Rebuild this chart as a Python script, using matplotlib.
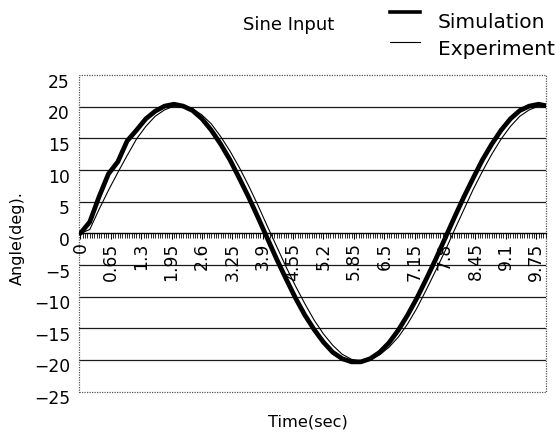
import matplotlib
matplotlib.use("Agg")
import matplotlib.pyplot as plt
from matplotlib.ticker import MultipleLocator, FixedLocator, FixedFormatter
from matplotlib.patches import Rectangle
from matplotlib.lines import Line2D
from matplotlib.transforms import ScaledTranslation

plt.rcParams['font.family'] = ['DejaVu Sans']

# Time samples (sec)
time = [0.0, 0.2, 0.4, 0.6, 0.8, 1.0, 1.2, 1.4, 1.6, 1.8,
        2.0, 2.2, 2.4, 2.6, 2.8, 3.0, 3.2, 3.4, 3.6, 3.8,
        4.0, 4.2, 4.4, 4.6, 4.8, 5.0, 5.2, 5.4, 5.6, 5.8,
        6.0, 6.2, 6.4, 6.6, 6.8, 7.0, 7.2, 7.4, 7.6, 7.8,
        8.0, 8.2, 8.4, 8.6, 8.8, 9.0, 9.2, 9.4, 9.6, 9.8, 10.0]

simulation = [0.0, 1.8, 5.8, 9.4, 11.3, 14.6, 16.3, 18.1, 19.3, 20.1,
              20.4, 20.1, 19.4, 18.1, 16.3, 14.1, 11.6, 8.7, 5.7, 2.5,
              -0.8, -4.1, -7.2, -10.2, -12.9, -15.2, -17.2, -18.8, -19.8, -20.3,
              -20.3, -19.8, -18.8, -17.3, -15.3, -12.9, -10.2, -7.2, -4.1, -0.8,
              2.5, 5.7, 8.7, 11.6, 14.1, 16.3, 18.1, 19.4, 20.1, 20.4, 20.1]

experiment = [0.0, 0.6, 3.8, 6.8, 9.6, 12.3, 14.9, 16.9, 18.5, 19.5,
              20.1, 20.2, 19.7, 18.7, 17.3, 15.3, 13.0, 10.4, 7.5, 4.4,
              1.1, -2.1, -5.3, -8.3, -11.1, -13.7, -15.9, -17.7, -19.1, -19.9,
              -20.2, -20.0, -19.2, -18.0, -16.4, -14.3, -11.8, -8.9, -5.9, -2.8,
              0.5, 3.7, 6.9, 9.8, 12.5, 14.9, 16.9, 18.5, 19.5, 20.1, 20.0]

x_tick_values = [0, 0.65, 1.3, 1.95, 2.6, 3.25, 3.9, 4.55, 5.2, 5.85,
                 6.5, 7.15, 7.8, 8.45, 9.1, 9.75]
x_tick_labels = ["0", "0.65", "1.3", "1.95", "2.6", "3.25", "3.9", "4.55", "5.2",
                 "5.85", "6.5", "7.15", "7.8", "8.45", "9.1", "9.75"]
y_tick_values = [25, 20, 15, 10, 5, 0, -5, -10, -15, -20, -25]

W, H = 556, 433
fig = plt.figure(figsize=(W / 100, H / 100), dpi=100)
top_px, bot_px, left_px, right_px = 75.1, 391.6, 79, 546
ax = fig.add_axes([left_px / W, 1 - bot_px / H, (right_px - left_px) / W, (bot_px - top_px) / H])

ax.set_xlim(-0.03, 9.96)
ax.set_ylim(-25, 25)

# gridlines
for v in y_tick_values:
    if v not in (0, 25, -25):
        ax.axhline(v, color='#1a1a1a', lw=0.9, zorder=1)

# dotted plot-area frame
ax.add_patch(Rectangle((0, 0), 1, 1, transform=ax.transAxes, fill=False,
                       ls=(0, (1, 1)), lw=0.9, ec='#555555', zorder=1, clip_on=False))

for s in ['top', 'right', 'left']:
    ax.spines[s].set_visible(False)
ax.spines['bottom'].set_position(('data', 0))
ax.spines['bottom'].set_linewidth(1.0)
ax.spines['bottom'].set_zorder(2)

ax.plot(time, simulation, color='black', lw=3.4, solid_capstyle='round', zorder=3)
ax.plot(time, experiment, color='black', lw=0.8, zorder=4)

ax.xaxis.set_major_locator(FixedLocator(x_tick_values))
ax.xaxis.set_major_formatter(FixedFormatter(x_tick_labels))
ax.xaxis.set_minor_locator(MultipleLocator(0.05))
ax.tick_params(axis='x', which='major', direction='out', length=4.5, width=0.8,
               labelrotation=90, labelsize=12.3, pad=2)
ax.tick_params(axis='x', which='minor', direction='out', length=3.5, width=0.6)

ax.set_yticks(y_tick_values)
ax.set_yticklabels([str(v).replace('-', '\u2212') for v in y_tick_values])
ax.tick_params(axis='y', length=0, labelsize=12.3, pad=6.5)
shift = ScaledTranslation(0, -5.5 / 100, fig.dpi_scale_trans)
for lab in ax.get_yticklabels():
    lab.set_transform(lab.get_transform() + shift)

fig.text(17 / W, 1 - 238 / H, 'Angle(deg).', rotation=90, ha='center', va='center', fontsize=11.5)
fig.text(308 / W, 1 - 422 / H, 'Time(sec)', ha='center', va='center', fontsize=11.7)
fig.text(243 / W, 1 - 30 / H, 'Sine Input', ha='left', va='baseline', fontsize=13)

# legend
fig.add_artist(Line2D([390 / W, 420 / W], [1 - 12 / H, 1 - 12 / H], color='black', lw=2.6,
                      transform=fig.transFigure))
fig.add_artist(Line2D([390 / W, 420 / W], [1 - 42 / H, 1 - 42 / H], color='black', lw=0.8,
                      transform=fig.transFigure))
fig.text(438 / W, 1 - 28.3 / H, 'Simulation', ha='left', va='baseline', fontsize=14.5)
fig.text(438 / W, 1 - 55 / H, 'Experiment', ha='left', va='baseline', fontsize=14.5)

fig.savefig('out.png', dpi=100)
